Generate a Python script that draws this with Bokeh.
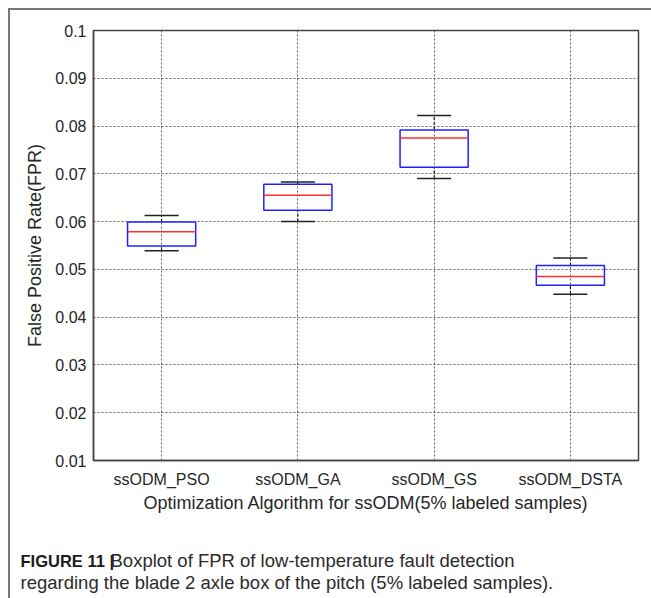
from bokeh.plotting import figure
from bokeh.models import (FixedTicker, Label, ColumnDataSource)
from bokeh.transform import dodge
from bokeh.embed import file_html
from bokeh.resources import INLINE

# ---- data ----
categories = ["ssODM_PSO", "ssODM_GA", "ssODM_GS", "ssODM_DSTA"]
lower_whisker = [0.0539, 0.0600, 0.0690, 0.0448]
q1 = [0.0549, 0.0624, 0.0714, 0.0467]
median = [0.0579, 0.0655, 0.0775, 0.0485]
q3 = [0.0599, 0.0678, 0.0792, 0.0508]
upper_whisker = [0.0613, 0.0683, 0.0822, 0.0524]

ytick_vals = [0.01, 0.02, 0.03, 0.04, 0.05, 0.06, 0.07, 0.08, 0.09, 0.1]
ytick_labels = ["0.01", "0.02", "0.03", "0.04", "0.05", "0.06", "0.07", "0.08", "0.09", "0.1"]

x_title = "Optimization Algorithm for ssODM(5% labeled samples)"
y_title = "False Positive Rate(FPR)"
caption_bold = "FIGURE 11 |"
caption_line1 = "Boxplot of FPR of low-temperature fault detection"
caption_line2 = "regarding the blade 2 axle box of the pitch (5% labeled samples)."

FONT = "Liberation Sans"
TXT = "#262626"

src = ColumnDataSource(dict(cat=categories, lw=lower_whisker, q1=q1, med=median,
                            q3=q3, uw=upper_whisker))

p = figure(width=651, height=598, x_range=categories, y_range=(0.01, 0.1),
           output_backend="svg", toolbar_location=None,
           min_border_left=93, min_border_right=13, min_border_top=30,
           min_border_bottom=138)
p.x_range.range_padding = 0

p.background_fill_color = "white"
# transparent border area so the page panel frame (top/left rules) shows through
p.border_fill_color = None
p.styles = {
    "background-color": "white",
    "background-image": "linear-gradient(#777777, #777777), linear-gradient(#777777, #777777)",
    "background-position": "8px 8px, 8px 8px",
    "background-size": "100% 2px, 2px 100%",
    "background-repeat": "no-repeat, no-repeat",
}
p.outline_line_color = "#444444"
p.outline_line_width = 1.5

# grid
for g in (p.xgrid[0], p.ygrid[0]):
    g.grid_line_color = "#303030"
    g.grid_line_dash = "2 2"
    g.grid_line_alpha = 0.75
p.ygrid.ticker = FixedTicker(ticks=ytick_vals)

# axes
p.yaxis.ticker = FixedTicker(ticks=ytick_vals)
p.yaxis.major_label_overrides = {v: l for v, l in zip(ytick_vals, ytick_labels)}
for ax in (p.xaxis[0], p.yaxis[0]):
    ax.major_label_text_font = FONT
    ax.major_label_text_font_size = "16px"
    ax.major_label_text_color = TXT
    ax.axis_label_text_font = FONT
    ax.axis_label_text_font_size = "18px"
    ax.axis_label_text_font_style = "normal"
    ax.axis_label_text_color = TXT
    ax.major_tick_in = 0
    ax.major_tick_out = 0
    ax.minor_tick_in = 0
    ax.minor_tick_out = 0
    ax.axis_line_color = "#444444"
    ax.axis_line_width = 1.5
p.xaxis.axis_label = x_title
p.yaxis.axis_label = y_title
p.xaxis.major_label_standoff = 10
p.xaxis.axis_label_standoff = 2
p.yaxis.major_label_standoff = 7
p.yaxis.axis_label_standoff = 7

# whiskers (dashed)
p.segment(x0="cat", y0="q3", x1="cat", y1="uw", source=src,
          line_color="black", line_dash="3 2", line_width=1)
p.segment(x0="cat", y0="lw", x1="cat", y1="q1", source=src,
          line_color="black", line_dash="3 2", line_width=1)
# caps
p.segment(x0=dodge("cat", -0.125, range=p.x_range), y0="uw",
          x1=dodge("cat", 0.125, range=p.x_range), y1="uw", source=src,
          line_color="#222222", line_width=1.5)
p.segment(x0=dodge("cat", -0.125, range=p.x_range), y0="lw",
          x1=dodge("cat", 0.125, range=p.x_range), y1="lw", source=src,
          line_color="#222222", line_width=1.5)
# boxes
p.vbar(x="cat", width=0.5, bottom="q1", top="q3", source=src,
       fill_color=None, line_color="#2020ff", line_width=1.5)
# medians
p.segment(x0=dodge("cat", -0.25, range=p.x_range), y0="med",
          x1=dodge("cat", 0.25, range=p.x_range), y1="med", source=src,
          line_color="#ff3030", line_width=1.5)

# caption (canvas units, y from top), placed in the bottom panel
p.add_layout(Label(x=20, y=560, x_units="canvas", y_units="canvas",
                   text=caption_bold, text_font=FONT,
                   text_font_size="16.5px", text_font_style="bold",
                   text_color="#1a1a1a", text_baseline="middle"), "below")
p.add_layout(Label(x=110, y=560, x_units="canvas", y_units="canvas",
                   text=caption_line1, text_font=FONT, text_font_size="18.5px",
                   text_color="#2b2b2b", text_baseline="middle"), "below")
p.add_layout(Label(x=20, y=582, x_units="canvas", y_units="canvas",
                   text=caption_line2, text_font=FONT, text_font_size="18.5px",
                   text_color="#2b2b2b", text_baseline="middle"), "below")

open("out.html", "w").write(file_html(p, INLINE))
